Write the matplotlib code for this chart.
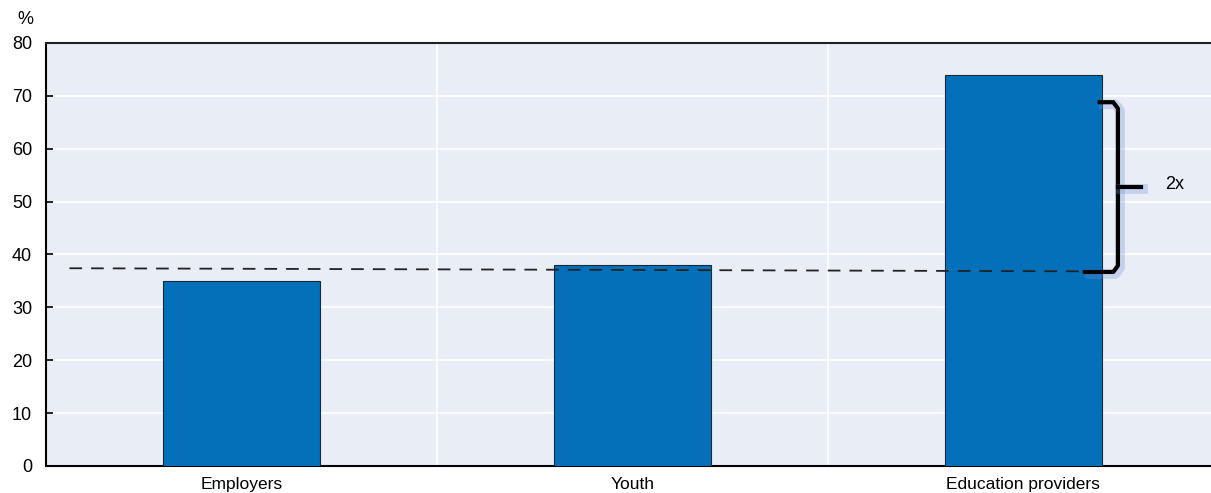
import matplotlib
matplotlib.use("Agg")
import matplotlib.pyplot as plt
import matplotlib.patheffects as pe

categories = ["Employers", "Youth", "Education providers"]
values = [35, 38, 74]
ref_start, ref_end = 37.4, 36.8
bracket_top, bracket_bottom, bracket_mid = 68.8, 36.7, 52.7
yticks = [0, 10, 20, 30, 40, 50, 60, 70, 80]

plt.rcParams['font.family'] = ['Liberation Sans', 'DejaVu Sans']

W, H = 1211, 493
fig = plt.figure(figsize=(W/100, H/100), dpi=100)
ax = fig.add_axes([46/W, 1 - 466/H, (W - 46)/W, (466 - 43)/H])
ax.set_facecolor('#E9EDF6')

x = list(range(len(categories)))
ax.bar(x, values, width=0.4, color='#0570BA', edgecolor='#1a2a3a', linewidth=0.8, zorder=3)

ax.set_xlim(-0.5, 2.48)
ax.set_ylim(0, 80)
ax.set_yticks(yticks)
ax.set_yticklabels([str(t) for t in yticks], fontsize=13)
ax.set_xticks(x)
ax.set_xticklabels(categories, fontsize=12.5)
ax.tick_params(axis='x', length=0, pad=8)
ax.tick_params(axis='y', length=5, width=1.2, direction='in', pad=10, color='black')

for yv in yticks[1:]:
    ax.axhline(yv, color='white', lw=1.2, zorder=1)
for xb in [0.5, 1.5]:
    ax.axvline(xb, color='white', lw=1.2, zorder=1)

for s in ['top', 'right']:
    ax.spines[s].set_visible(False)
ax.spines['left'].set_linewidth(1.5)
ax.spines['bottom'].set_linewidth(1.5)
ax.plot([-0.5, 2.48], [80, 80], color='#222222', lw=1.5, clip_on=False, zorder=4)

ax.plot([-0.44, 2.234], [ref_start, ref_end], color='#222222', lw=1.3,
        dashes=(7, 5), zorder=4)

glow = [pe.SimpleLineShadow(offset=(1.5, -1.5), shadow_color='#6F8FD8', alpha=0.3, linewidth=7),
        pe.Normal()]
bx = 2.242
ax.plot([2.19, bx - 0.012, bx, bx, bx - 0.012, 2.152],
        [bracket_top, bracket_top, bracket_top - 1.2, bracket_bottom + 1.2, bracket_bottom, bracket_bottom],
        color='black', lw=3, solid_capstyle='butt', solid_joinstyle='round',
        zorder=5, path_effects=glow)
ax.plot([bx, bx + 0.058], [bracket_mid, bracket_mid], color='black', lw=3,
        zorder=5, path_effects=glow)
ax.text(2.362, 53.3, '2x', fontsize=13, va='center', ha='left', zorder=6)

fig.text(25/W, 1 - 19/H, '%', fontsize=13, ha='center', va='center')

fig.savefig('out.png', dpi=100)
